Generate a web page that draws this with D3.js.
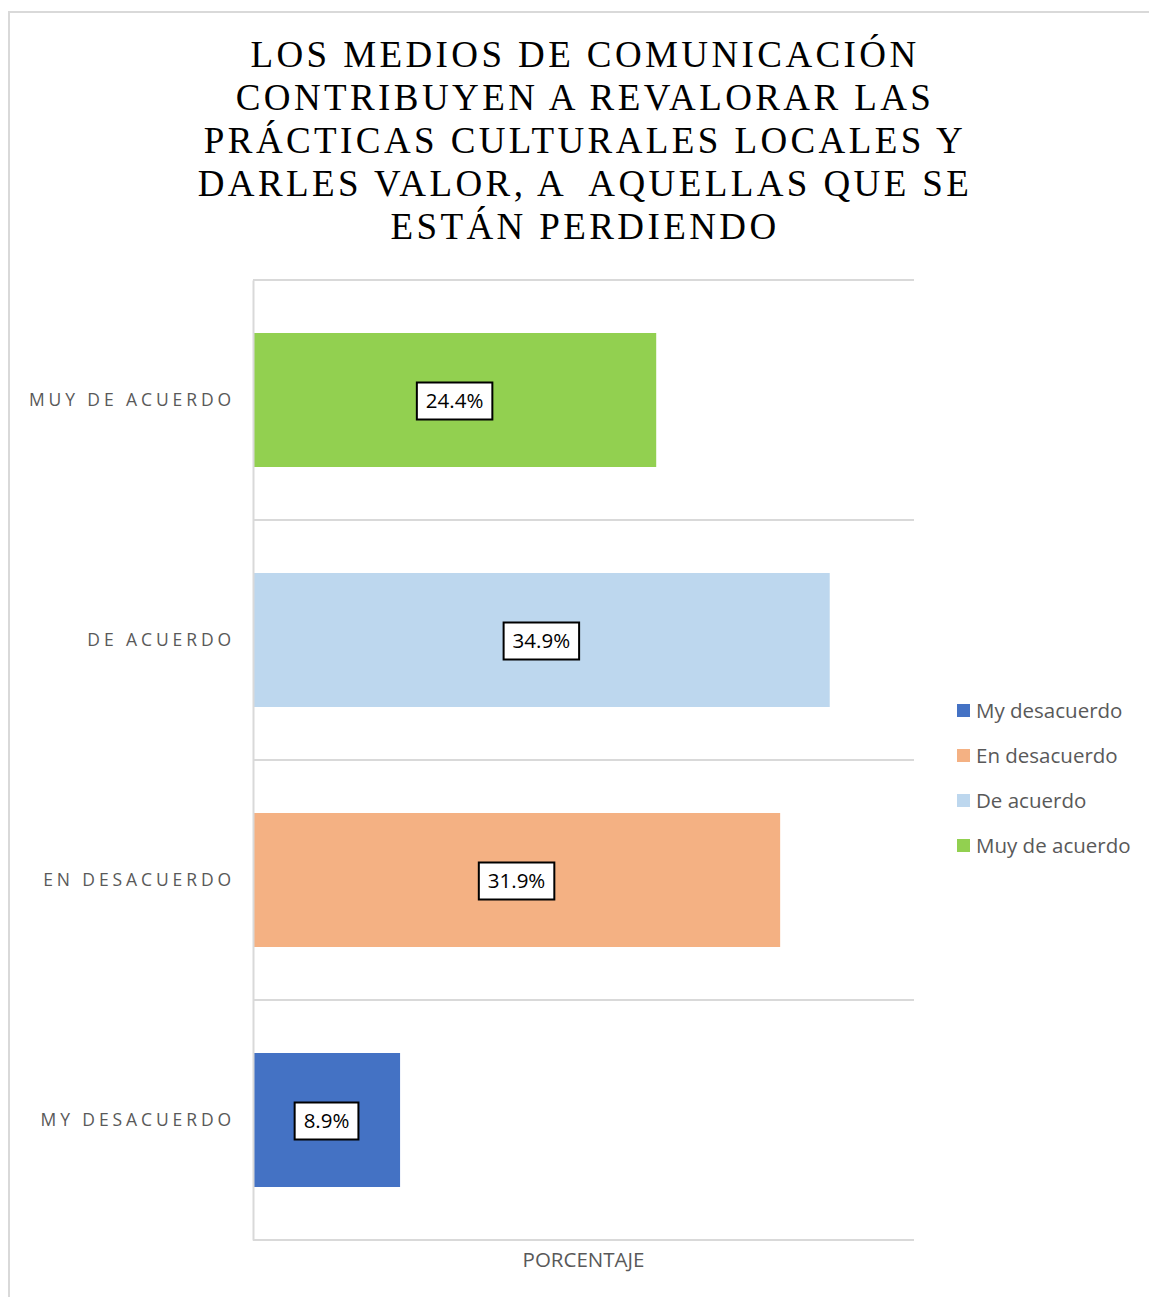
<!DOCTYPE html>
<html>
<head>
<meta charset="utf-8">
<script src="https://cdn.jsdelivr.net/npm/d3@7"></script>
<style>
  html, body { margin: 0; padding: 0; background: #fff; }
  svg { display: block; }
  .pre { white-space: pre; }
</style>
</head>
<body>
<svg id="chart" width="1149" height="1297"></svg>
<script>
const titleLines = [
  "LOS MEDIOS DE COMUNICACIÓN",
  "CONTRIBUYEN A REVALORAR LAS",
  "PRÁCTICAS CULTURALES LOCALES Y",
  "DARLES VALOR, A  AQUELLAS QUE SE",
  "ESTÁN PERDIENDO"
];
const categories = ["My desacuerdo", "En desacuerdo", "De acuerdo", "Muy de acuerdo"];
const categoryLabels = ["MY DESACUERDO", "EN DESACUERDO", "DE ACUERDO", "MUY DE ACUERDO"];
const values = [8.9, 31.9, 34.9, 24.4];
const colors = ["#4472C4", "#F4B183", "#BDD7EE", "#92D050"];
const xAxisTitle = "PORCENTAJE";

const svg = d3.select("#chart");

// outer chart border
svg.append("rect")
  .attr("x", 9).attr("y", 12)
  .attr("width", 1160).attr("height", 1300)
  .attr("fill", "#fff")
  .attr("stroke", "#d9d9d9").attr("stroke-width", 2);

// title
const title = svg.append("text")
  .attr("class", "pre")
  .attr("text-anchor", "middle")
  .attr("font-family", "'Liberation Serif', 'Times New Roman', serif")
  .attr("font-size", 37)
  .attr("letter-spacing", 3.4)
  .attr("fill", "#000");
titleLines.forEach((l, i) => {
  title.append("tspan").attr("x", 585).attr("y", 67 + i * 43).text(l);
});

const plot = { left: 253, right: 914, top: 280, bottom: 1240 };

const x = d3.scaleLinear().domain([0, 40]).range([plot.left, plot.right]);
const p = 106 / 240;
const y = d3.scaleBand()
  .domain(categories.slice().reverse())
  .range([plot.top, plot.bottom])
  .paddingInner(p).paddingOuter(p / 2);

const step = y.step();

// horizontal gridlines at category boundaries
const gridYs = categories.slice().reverse().map(c => y(c) - step * p / 2);
gridYs.push(plot.bottom);
svg.append("g").selectAll("line").data(gridYs).join("line")
  .attr("x1", plot.left).attr("x2", plot.right)
  .attr("y1", d => d).attr("y2", d => d)
  .attr("stroke", "#d9d9d9").attr("stroke-width", 2);

// bars
svg.append("g").selectAll("rect").data(categories).join("rect")
  .attr("x", x(0))
  .attr("y", d => y(d))
  .attr("width", (d, i) => x(values[i]) - x(0))
  .attr("height", y.bandwidth())
  .attr("fill", (d, i) => colors[i]);

// category axis (left)
const yAxis = d3.axisLeft(y).tickSize(0).tickPadding(18)
  .tickFormat(d => categoryLabels[categories.indexOf(d)]);
const ga = svg.append("g").attr("transform", `translate(${plot.left},0)`).call(yAxis);
ga.select(".domain").attr("stroke", "#d9d9d9").attr("stroke-width", 2);
ga.selectAll("text")
  .attr("font-family", "'Open Sans', sans-serif")
  .attr("font-size", 17.5)
  .attr("letter-spacing", 3.9)
  .attr("fill", "#595959");

// data labels
const lbl = svg.append("g").selectAll("g").data(categories).join("g")
  .attr("transform", (d, i) => `translate(${(x(0) + x(values[i])) / 2},${y(d) + y.bandwidth() / 2 + 1})`);
lbl.append("rect")
  .attr("x", -38).attr("y", -18.5).attr("width", 76).attr("height", 37)
  .attr("fill", "#fff").attr("stroke", "#000").attr("stroke-width", 2);
lbl.append("text")
  .attr("text-anchor", "middle").attr("dy", "0.36em")
  .attr("font-family", "'Open Sans', sans-serif")
  .attr("font-size", 20.5)
  .attr("fill", "#000")
  .text((d, i) => d3.format(".1f")(values[i]) + "%");
lbl.select("rect").each(function() {
  const t = d3.select(this.parentNode).select("text").node().getComputedTextLength();
  const w = t + 18;
  d3.select(this).attr("x", -w / 2).attr("width", w);
});

// x axis title
svg.append("text")
  .attr("x", (plot.left + plot.right) / 2).attr("y", 1267)
  .attr("text-anchor", "middle")
  .attr("font-family", "'Open Sans', sans-serif")
  .attr("font-size", 20.5)
  .attr("fill", "#595959")
  .text(xAxisTitle);

// legend
const leg = svg.append("g").selectAll("g").data(categories).join("g")
  .attr("transform", (d, i) => `translate(957,${711 + i * 45})`);
leg.append("rect").attr("x", 0).attr("y", -7).attr("width", 13).attr("height", 13)
  .attr("fill", (d, i) => colors[i]);
leg.append("text").attr("x", 19).attr("dy", "0.35em")
  .attr("font-family", "'Open Sans', sans-serif")
  .attr("font-size", 20.5)
  .attr("fill", "#595959")
  .text(d => d);
</script>
</body>
</html>
